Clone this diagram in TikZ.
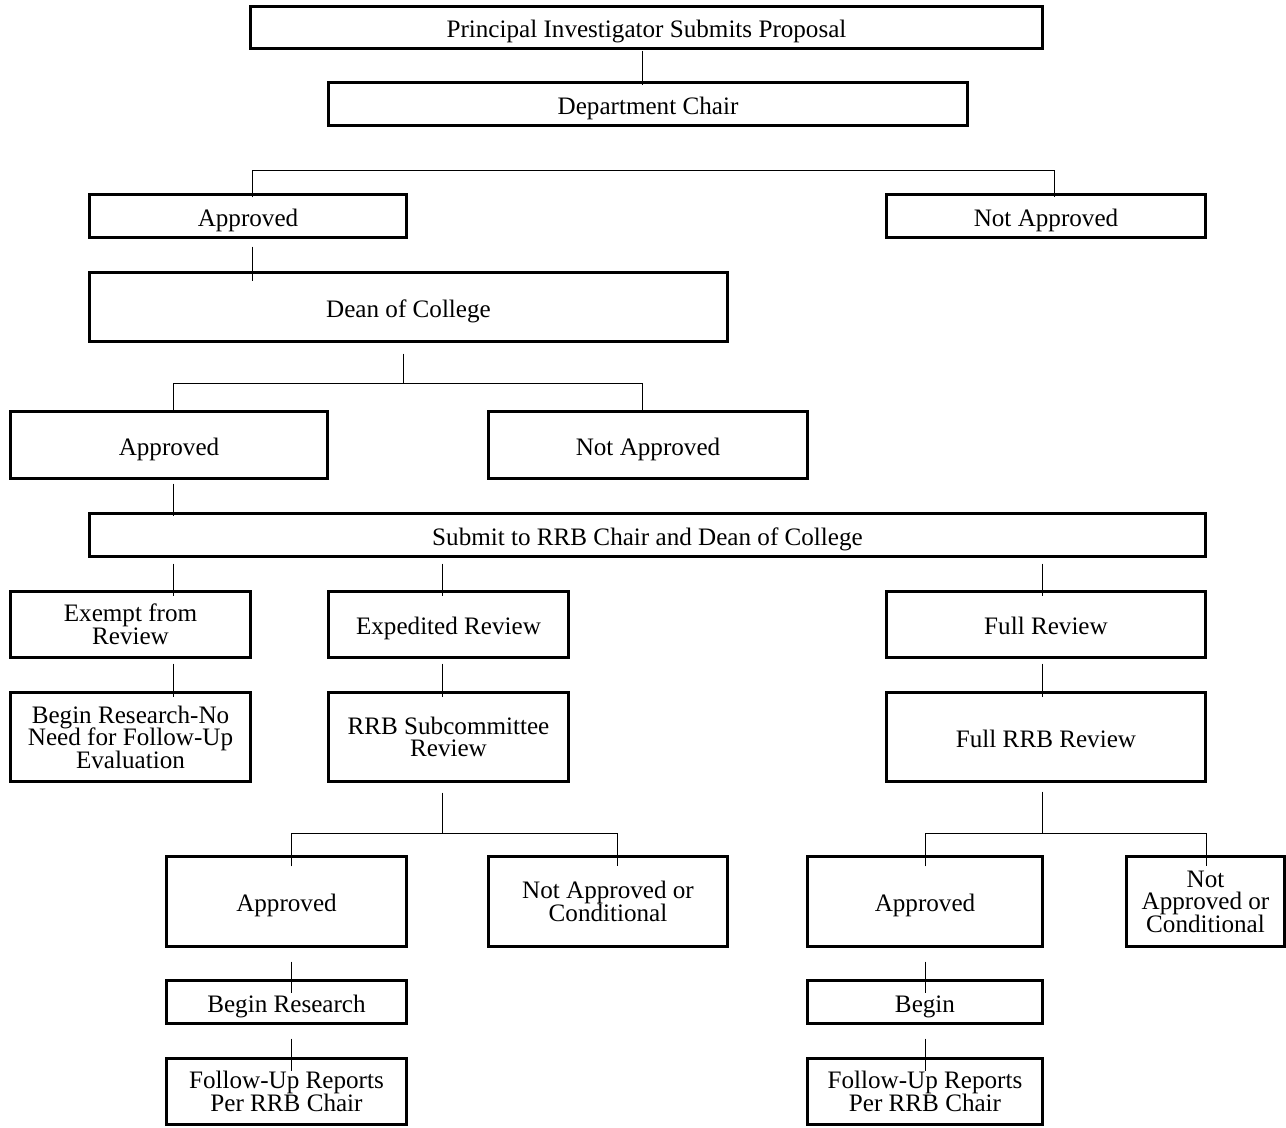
\documentclass[tikz,border=0pt]{standalone}
\usepackage{fontspec}
\setmainfont{Liberation Serif}
\usetikzlibrary{calc}
\begin{document}
\begin{tikzpicture}[x=0.02cm,y=-0.02cm,
    box/.style 2 args={draw,line width=1.2pt,minimum width=#1*0.02cm,minimum height=#2*0.02cm,
        inner sep=1pt,align=center,font={\fontsize{14.3}{12.8}\selectfont\lineskiplimit=-10pt}},
    single/.style={text height=15pt,text depth=3.6pt},
    link/.style={line width=0.5pt}]
    \useasboundingbox (0,0) rectangle (1286,1128);

    \node[box={792}{42},single] (pi) at (646.5,27.5) {Principal Investigator Submits Proposal};
    \node[box={639}{43},single] (dept) at (648,104) {Department Chair};
    \node[box={317}{43},single] (appr1) at (248,216) {Approved};
    \node[box={319}{43},single] (nappr1) at (1046,216) {Not Approved};
    \node[box={638}{69},single] (dean) at (408.5,307) {Dean of College};
    \node[box={317}{67},single] (appr2) at (169,445) {Approved};
    \node[box={319}{67},single] (nappr2) at (648,445) {Not Approved};
    \node[box={1116}{43},single] (submit) at (647.5,535) {Submit to RRB Chair and Dean of College};
    \node[box={240}{66}] (exempt) at (130.5,624.5) {Exempt from\\Review};
    \node[box={240}{66},single] (exped) at (448.5,624.5) {Expedited Review};
    \node[box={319}{66},single] (full) at (1046,624.5) {Full Review};
    \node[box={240}{89}] (beginno) at (130.5,737) {Begin Research-No\\Need for Follow-Up\\Evaluation};
    \node[box={240}{89}] (rrbsub) at (448.5,737) {RRB Subcommittee\\Review};
    \node[box={319}{89},single] (fullrrb) at (1046,737) {Full RRB Review};
    \node[box={240}{90},single] (appr3) at (286.5,901.5) {Approved};
    \node[box={239}{90}] (nappr3) at (608,901.5) {Not Approved or\\Conditional};
    \node[box={235}{90},single] (appr4) at (925,901.5) {Approved};
    \node[box={158}{90}] (nappr4) at (1205.5,901.5) {Not\\Approved or\\Conditional};
    \node[box={240}{43},single] (begin3) at (286.5,1002) {Begin Research};
    \node[box={235}{43},single] (begin4) at (925,1002) {Begin};
    \node[box={240}{66}] (follow3) at (286.5,1091.5) {Follow-Up Reports\\Per RRB Chair};
    \node[box={235}{66}] (follow4) at (925,1091.5) {Follow-Up Reports\\Per RRB Chair};

    \coordinate (j1l) at (252,170);
    \coordinate (j1r) at (1054.5,170);
    \coordinate (j2) at (403,383);
    \coordinate (j2l) at (173,383);
    \coordinate (j2r) at (642.6,383);
    \coordinate (j3) at (442,833);
    \coordinate (j3l) at (291.5,833);
    \coordinate (j3r) at (617,833);
    \coordinate (j4) at (1042,833);
    \coordinate (j4l) at (925,833);
    \coordinate (j4r) at (1206,833);

    \draw[link] ($(pi.south -| j2r)+(0,1)$) -- ($(dept.north -| j2r)+(0,4)$);
    \draw[link] ($(appr1.north -| j1l)+(0,4)$) -- (j1l) -- (j1r) -- ($(nappr1.north -| j1r)+(0,4)$);
    \draw[link] ($(appr1.south -| j1l)+(0,8)$) -- ($(dean.north -| j1l)+(0,10)$);
    \draw[link] ($(dean.south -| j2)+(0,11)$) -- (j2);
    \draw[link] ($(appr2.north -| j2l)+(0,2)$) -- (j2l) -- (j2r) -- ($(nappr2.north -| j2r)+(0,2)$);
    \draw[link] ($(appr2.south -| j2l)+(0,4)$) -- ($(submit.north -| j2l)+(0,4)$);

    \draw[link] ($(submit.south -| j2l)+(0,6)$) -- ($(exempt.north -| j2l)+(0,6)$);
    \draw[link] ($(submit.south -| j3)+(0,6)$) -- ($(exped.north -| j3)+(0,6)$);
    \draw[link] ($(submit.south -| j4)+(0,6)$) -- ($(full.north -| j4)+(0,6)$);
    \draw[link] ($(exempt.south -| j2l)+(0,5)$) -- ($(beginno.north -| j2l)+(0,6)$);
    \draw[link] ($(exped.south -| j3)+(0,5)$) -- ($(rrbsub.north -| j3)+(0,6)$);
    \draw[link] ($(full.south -| j4)+(0,5)$) -- ($(fullrrb.north -| j4)+(0,6)$);

    \draw[link] ($(rrbsub.south -| j3)+(0,10)$) -- (j3);
    \draw[link] ($(appr3.north -| j3l)+(0,11)$) -- (j3l) -- (j3r) -- ($(nappr3.north -| j3r)+(0,11)$);
    \draw[link] ($(fullrrb.south -| j4)+(0,9)$) -- (j4);
    \draw[link] ($(appr4.north -| j4l)+(0,11)$) -- (j4l) -- (j4r) -- ($(nappr4.north -| j4r)+(0,11)$);

    \draw[link] ($(appr3.south -| j3l)+(0,14)$) -- ($(begin3.north -| j3l)+(0,14)$);
    \draw[link] ($(begin3.south -| j3l)+(0,14)$) -- ($(follow3.north -| j3l)+(0,14)$);
    \draw[link] ($(appr4.south -| j4l)+(0,14)$) -- ($(begin4.north -| j4l)+(0,14)$);
    \draw[link] ($(begin4.south -| j4l)+(0,14)$) -- ($(follow4.north -| j4l)+(0,14)$);
\end{tikzpicture}
\end{document}
